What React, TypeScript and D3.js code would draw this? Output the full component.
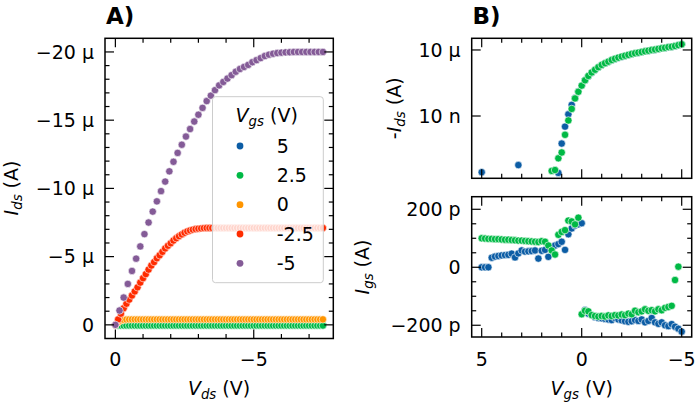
'use client';

import React, { useEffect, useRef } from 'react';
import * as d3 from 'd3';

const WIDTH = 699;
const HEIGHT = 402;
const FONT = "'DejaVu Sans', sans-serif";
const FS = 19;
const MAJ = 9;
const MIN = 4.5;

const vgsLevels = ['5', '2.5', '0', '-2.5', '-5'];
const colors = ['#0C5DA5', '#00B945', '#FF9500', '#FF2C00', '#845B97'];

// Panel A: Vds sweeps (V)
const vdsFine = d3.range(0, -7.55, -0.1);
const vdsCoarse = d3.range(0, -7.55, -0.15);

// Panel A: drain current (µA), one array per Vgs
const idsVgs5 = [
  0, 0.03, 0.03, 0.03, 0.03, 0.03, 0.03, 0.03, 0.03, 0.03, 0.03, 0.03, 0.03, 0.03, 0.03, 0.03,
  0.03, 0.03, 0.03, 0.03, 0.03, 0.03, 0.03, 0.03, 0.03, 0.03, 0.03, 0.03, 0.03, 0.03, 0.03,
  0.03, 0.03, 0.03, 0.03, 0.03, 0.03, 0.03, 0.03, 0.03, 0.03, 0.03, 0.03, 0.03, 0.03, 0.03,
  0.03, 0.03, 0.03, 0.03, 0.03, 0.03, 0.03, 0.03, 0.03, 0.03, 0.03, 0.03, 0.03, 0.03, 0.03,
  0.03, 0.03, 0.03, 0.03, 0.03, 0.03, 0.03, 0.03, 0.03, 0.03, 0.03, 0.03, 0.03, 0.03, 0.03,
];
const idsVgs2p5 = [
  0, 0.05, 0.05, 0.05, 0.05, 0.05, 0.05, 0.05, 0.05, 0.05, 0.05, 0.05, 0.05, 0.05, 0.05, 0.05,
  0.05, 0.05, 0.05, 0.05, 0.05, 0.05, 0.05, 0.05, 0.05, 0.05, 0.05, 0.05, 0.05, 0.05, 0.05,
  0.05, 0.05, 0.05, 0.05, 0.05, 0.05, 0.05, 0.05, 0.05, 0.05, 0.05, 0.05, 0.05, 0.05, 0.05,
  0.05, 0.05, 0.05, 0.05, 0.05, 0.05, 0.05, 0.05, 0.05, 0.05, 0.05, 0.05, 0.05, 0.05, 0.05,
  0.05, 0.05, 0.05, 0.05, 0.05, 0.05, 0.05, 0.05, 0.05, 0.05, 0.05, 0.05, 0.05, 0.05, 0.05,
];
const idsVgs0 = [
  0, -0.2, -0.33, -0.37, -0.39,
  -0.4, -0.4, -0.4, -0.4, -0.4, -0.4, -0.4, -0.4, -0.4, -0.4, -0.4, -0.4, -0.4, -0.4, -0.4,
  -0.4, -0.4, -0.4, -0.4, -0.4, -0.4, -0.4, -0.4, -0.4, -0.4, -0.4, -0.4, -0.4, -0.4, -0.4,
  -0.4, -0.4, -0.4, -0.4, -0.4, -0.4, -0.4, -0.4, -0.4, -0.4, -0.4, -0.4, -0.4, -0.4, -0.4,
  -0.4, -0.4, -0.4, -0.4, -0.4, -0.4, -0.4, -0.4, -0.4, -0.4, -0.4, -0.4, -0.4, -0.4, -0.4,
  -0.4, -0.4, -0.4, -0.4, -0.4, -0.4, -0.4, -0.4, -0.4, -0.4, -0.4,
];
const idsVgsM2p5 = [
  0, -0.4, -0.82, -1.22, -1.55, -1.85, -2.15, -2.45, -2.75, -3.1, -3.42,
  -3.72, -4.05, -4.35, -4.6, -4.88, -5.1, -5.35, -5.6, -5.8, -5.98,
  -6.18, -6.35, -6.5, -6.63, -6.75, -6.85, -6.92, -6.98, -7.02, -7.05, -7.07, -7.09,
  -7.1, -7.1, -7.1, -7.1, -7.1, -7.1, -7.1, -7.1, -7.1, -7.1, -7.1, -7.1, -7.1, -7.1, -7.1,
  -7.1, -7.1, -7.1, -7.1, -7.1, -7.1, -7.1, -7.1, -7.1, -7.1, -7.1, -7.1, -7.1, -7.1, -7.1,
  -7.1, -7.1, -7.1, -7.1, -7.1, -7.1, -7.1, -7.1, -7.1, -7.1, -7.1, -7.1, -7.1,
];
const idsVgsM5 = [
  0, -1.05, -2.0, -3.0, -3.95, -4.85, -5.75, -6.65, -7.5, -8.3, -9.05,
  -9.8, -10.5, -11.25, -11.95, -12.6, -13.2, -13.8, -14.35, -14.9, -15.4,
  -15.9, -16.4, -16.8, -17.2, -17.55, -17.8, -18.05, -18.3, -18.55, -18.75,
  -18.9, -19.05, -19.25, -19.4, -19.55, -19.7, -19.8, -19.87, -19.92, -19.95,
  -19.97, -19.98, -20, -20, -20, -20, -20, -20, -20, -20,
];

const seriesA = [
  { x: vdsFine, y: idsVgs5 },
  { x: vdsFine, y: idsVgs2p5 },
  { x: vdsFine, y: idsVgs0 },
  { x: vdsFine, y: idsVgsM2p5 },
  { x: vdsCoarse, y: idsVgsM5 },
];

// Panel B: Vgs sweep (V)
const vgsSweep = d3.range(5, -5.05, -1 / 6);

// Panel B top: -Ids (A); null where the value is not positive
const negIdsBlue = [
  2.8e-11, null, null, null, null, null, null, null, null, null, null,
  5.9e-11, null, null, null, null, null, null, null, null, null, null, null,
  2.6e-11, 5.6e-10, 3.3e-9, 1.2e-8, 3.2e-8, 6.6e-8, 1.3e-7, 2.4e-7,
  4.1e-7, 6.4e-7, 9.2e-7, 1.22e-6, 1.62e-6, 2.05e-6, 2.45e-6, 2.9e-6, 3.4e-6, 3.9e-6,
  4.4e-6, 4.9e-6, 5.4e-6, 5.9e-6, 6.5e-6, 7.0e-6, 7.5e-6, 8.0e-6, 8.6e-6, 9.2e-6,
  9.8e-6, 1.03e-5, 1.1e-5, 1.18e-5, 1.24e-5, 1.33e-5, 1.39e-5, 1.49e-5, 1.63e-5, 1.8e-5,
];
const negIdsGreen = [
  null, null, null, null, null, null, null, null, null, null, null,
  null, null, null, null, null, null, null, null, null, null,
  3.2e-11, 3.5e-11, 1.2e-10, 2.2e-10, 1.4e-9, 6.3e-9, 2.1e-8, 6.3e-8, 1.26e-7, 2.4e-7,
  4.2e-7, 6.6e-7, 9.5e-7, 1.26e-6, 1.66e-6, 2.1e-6, 2.5e-6, 2.95e-6, 3.5e-6, 4.0e-6,
  4.5e-6, 5.0e-6, 5.5e-6, 6.0e-6, 6.6e-6, 7.1e-6, 7.6e-6, 8.1e-6, 8.7e-6, 9.3e-6,
  1.0e-5, 1.05e-5, 1.12e-5, 1.2e-5, 1.26e-5, 1.35e-5, 1.41e-5, 1.51e-5, 1.66e-5, 1.82e-5,
];

// Panel B bottom: Igs (pA)
const igsBlue = [
  0, 0, 0, 33, 37, 39, 41, 42, 43, 47, 34,
  48, 58, 54, 55, 56, 58, 30, 57, 60, 36,
  68, 75, 80, 88, 60, 114, 134, 144, 148, 152,
  -147, -160, -165, -172, -175, -176, -178, -180, -182, -175,
  -180, -183, -186, -188, -186, -182, -185, -180, -190, -185,
  -175, -190, -195, -190, -200, -203, -196, -205, -212, -222,
];
const igsGreen = [
  100, 99, 98, 98, 97, 97, 96, 95, 95, 94, 93,
  92, 92, 91, 90, 89, 88, 87, 90, 88, 75,
  58, 44, 112, 122, 128, 161, 158, 148, 171, -162,
  -150, -152, -165, -168, -170, -168, -170, -166, -168, -165,
  -166, -163, -165, -160, -162, -150, -155, -152, -145, -150,
  -148, -152, -145, -148, -140, -137, -133, -44, 2, null,
];

const xTicksA = [0, -5];
const xMinorA = [-1, -2, -3, -4, -6, -7];
const yTicksA = [0, -5, -10, -15, -20];
const yMinorA = d3.range(-1, -21, -1).filter(v => v % 5 !== 0);
const xTicksB = [5, 0, -5];
const xMinorB = [4, 3, 2, 1, -1, -2, -3, -4];
const yTicksBTop = [1e-5, 1e-8];
const yTicksBBot = [200, 0, -200];
const yMinorBBot = [150, 100, 50, -50, -100, -150];

const minus = (s: string) => s.replace('-', '\u2212');
const fmtMicro = (v: number) => (v === 0 ? '0' : minus(`${v} µ`));
const fmtPico = (v: number) => (v === 0 ? '0' : minus(`${v} p`));
const fmtLog = (v: number) => (v === 1e-5 ? '10 µ' : '10 n');

type Sel = d3.Selection<any, any, any, any>;

function drawFrame(
  g: Sel,
  xs: (v: number) => number,
  ys: (v: number) => number,
  box: { x0: number; x1: number; y0: number; y1: number },
  xMaj: number[], xMin: number[], yMaj: number[], yMin: number[],
) {
  const segs: number[][] = [];
  const addX = (vals: number[], len: number) => vals.forEach(v => {
    const x = xs(v);
    segs.push([x, box.y1, x, box.y1 - len], [x, box.y0, x, box.y0 + len]);
  });
  const addY = (vals: number[], len: number) => vals.forEach(v => {
    const y = ys(v);
    segs.push([box.x0, y, box.x0 + len, y], [box.x1, y, box.x1 - len, y]);
  });
  addX(xMaj, MAJ); addX(xMin, MIN); addY(yMaj, MAJ); addY(yMin, MIN);
  g.append('g').selectAll('line').data(segs).join('line')
    .attr('x1', d => d[0]).attr('y1', d => d[1]).attr('x2', d => d[2]).attr('y2', d => d[3])
    .attr('stroke', '#000').attr('stroke-width', 1.2);
  g.append('rect')
    .attr('x', box.x0).attr('y', box.y0)
    .attr('width', box.x1 - box.x0).attr('height', box.y1 - box.y0)
    .attr('fill', 'none').attr('stroke', '#000').attr('stroke-width', 1.5);
}

function yTickLabels(g: Sel, ys: (v: number) => number, vals: number[], x: number, fmt: (v: number) => string) {
  g.append('g').selectAll('text').data(vals).join('text')
    .attr('x', x).attr('y', d => ys(d)).attr('dy', '0.36em')
    .attr('text-anchor', 'end').attr('font-size', FS).attr('font-family', FONT)
    .text(d => fmt(d));
}

function xTickLabels(g: Sel, xs: (v: number) => number, vals: number[], y: number) {
  g.append('g').selectAll('text').data(vals).join('text')
    .attr('x', d => xs(d)).attr('y', y)
    .attr('text-anchor', 'middle').attr('font-size', FS).attr('font-family', FONT)
    .text(d => minus(String(d)));
}

function mathLabel(t: Sel, pre: string, sym: string, sub: string, post: string) {
  t.attr('font-size', FS).attr('font-family', FONT);
  if (pre) t.append('tspan').text(pre);
  t.append('tspan').attr('font-style', 'italic').text(sym);
  t.append('tspan').attr('font-style', 'italic').attr('font-size', FS * 0.7).attr('dy', 4).text(sub);
  t.append('tspan').attr('dy', -4).text(post);
}

function dots(g: Sel, pts: { x: number; y: number; c: string }[], r = 3.7) {
  g.append('g').selectAll('circle').data(pts).join('circle')
    .attr('cx', d => d.x).attr('cy', d => d.y).attr('r', r)
    .attr('fill', d => d.c).attr('stroke', '#fff').attr('stroke-width', 0.6);
}

export default function App() {
  const svgRef = useRef<SVGSVGElement>(null);

  useEffect(() => {
    if (!svgRef.current) return;
    const svg = d3.select(svgRef.current);
    svg.selectAll('*').remove();
    svg.append('rect').attr('width', WIDTH).attr('height', HEIGHT).attr('fill', '#fff');

    // ---------- Panel A ----------
    const boxA = { x0: 105, x1: 333.3, y0: 38.3, y1: 338.5 };
    const xA = d3.scaleLinear().domain([0.375, -7.875]).range([boxA.x0, boxA.x1]);
    const yA = d3.scaleLinear().domain([1, -21]).range([boxA.y1, boxA.y0]);
    const gA = svg.append('g');

    const ptsA = seriesA.flatMap((s, i) =>
      s.y.map((v, j) => ({ x: xA(s.x[j]), y: yA(v), c: colors[i] })));
    dots(gA, ptsA);
    drawFrame(gA, xA, yA, boxA, xTicksA, xMinorA, yTicksA, yMinorA);
    yTickLabels(gA, yA, yTicksA, boxA.x0 - 11, fmtMicro);
    xTickLabels(gA, xA, xTicksA, 365.5);

    // legend
    const lg = gA.append('g');
    lg.append('rect')
      .attr('x', 212.5).attr('y', 96.7).attr('width', 110.8).attr('height', 186).attr('rx', 3)
      .attr('fill', '#fff').attr('fill-opacity', 0.8).attr('stroke', '#cccccc').attr('stroke-width', 1);
    mathLabel(lg.append('text').attr('x', 266.7).attr('y', 122).attr('text-anchor', 'middle'), '', 'V', 'gs', ' (V)');
    const ly = d3.scaleLinear().domain([0, 4]).range([146, 263.3]);
    vgsLevels.forEach((lab, i) => {
      lg.append('circle').attr('cx', 240).attr('cy', ly(i)).attr('r', 3.4).attr('fill', colors[i]);
      lg.append('text').attr('x', 276.7).attr('y', ly(i)).attr('dy', '0.36em')
        .attr('font-size', FS).attr('font-family', FONT).text(lab);
    });

    mathLabel(gA.append('text').attr('x', 219).attr('y', 395).attr('text-anchor', 'middle'), '', 'V', 'ds', ' (V)');
    mathLabel(gA.append('text').attr('transform', 'translate(18,188) rotate(-90)').attr('text-anchor', 'middle'), '', 'I', 'ds', ' (A)');
    gA.append('text').attr('x', 106).attr('y', 24).attr('font-size', 23).attr('font-weight', 'bold')
      .attr('font-family', FONT).text('A)');

    // ---------- Panel B ----------
    const xB = d3.scaleLinear().domain([5.5, -5.5]).range([471.7, 691.7]);
    const boxT = { x0: 471.7, x1: 691.7, y0: 38.3, y1: 178.3 };
    const boxL = { x0: 471.7, x1: 691.7, y0: 196.7, y1: 337 };
    const yT = d3.scaleLog().domain([10 ** -10.83, 10 ** -4.47]).range([boxT.y1, boxT.y0]);
    const yL = d3.scaleLinear().domain([-240.5, 243.4]).range([boxL.y1, boxL.y0]);
    const gB = svg.append('g');

    const topSeries = [negIdsBlue, negIdsGreen];
    const botSeries = [igsBlue, igsGreen];
    const ptsT = topSeries.flatMap((s, i) => s
      .map((v, j) => ({ v, j }))
      .filter(d => d.v != null)
      .map(d => ({ x: xB(vgsSweep[d.j]), y: yT(d.v as number), c: colors[i] })));
    const ptsL = botSeries.flatMap((s, i) => s
      .map((v, j) => ({ v, j }))
      .filter(d => d.v != null)
      .map(d => ({ x: xB(vgsSweep[d.j]), y: yL(d.v as number), c: colors[i] })));
    dots(gB, ptsT);
    dots(gB, ptsL);

    drawFrame(gB, xB, yT, boxT, xTicksB, xMinorB, yTicksBTop, []);
    drawFrame(gB, xB, yL, boxL, xTicksB, xMinorB, yTicksBBot, yMinorBBot);
    yTickLabels(gB, yT, yTicksBTop, boxT.x0 - 11, fmtLog);
    yTickLabels(gB, yL, yTicksBBot, boxL.x0 - 11, fmtPico);
    xTickLabels(gB, xB, xTicksB, 365.5);

    mathLabel(gB.append('text').attr('x', 581.7).attr('y', 395).attr('text-anchor', 'middle'), '', 'V', 'gs', ' (V)');
    mathLabel(gB.append('text').attr('transform', 'translate(401,108.3) rotate(-90)').attr('text-anchor', 'middle'), '-', 'I', 'ds', ' (A)');
    mathLabel(gB.append('text').attr('transform', 'translate(369,267) rotate(-90)').attr('text-anchor', 'middle'), '', 'I', 'gs', ' (A)');
    gB.append('text').attr('x', 472.5).attr('y', 24).attr('font-size', 23).attr('font-weight', 'bold')
      .attr('font-family', FONT).text('B)');
  }, []);

  return (
    <div style={{ position: 'absolute', left: 0, top: 0 }}>
      <svg ref={svgRef} width={WIDTH} height={HEIGHT} style={{ display: 'block' }} />
    </div>
  );
}
